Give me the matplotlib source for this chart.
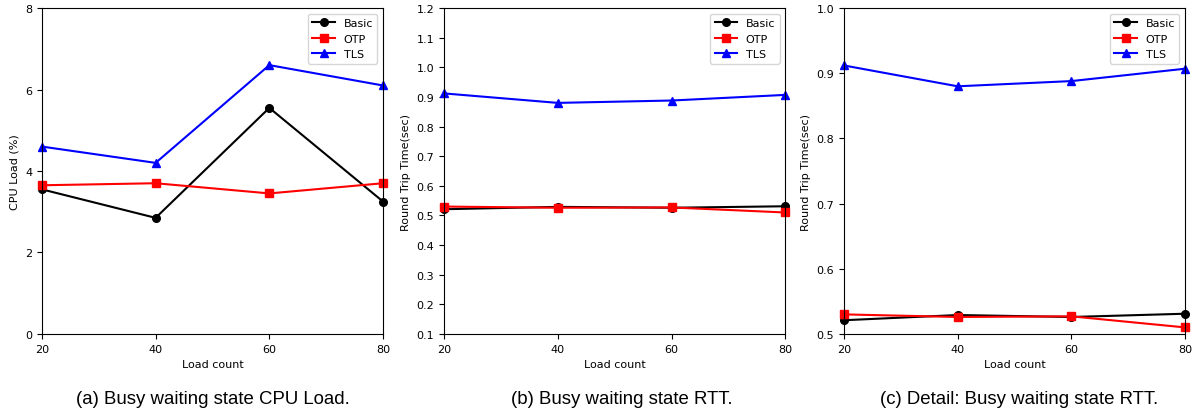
import matplotlib
matplotlib.use('Agg')
from matplotlib import pyplot as plt

# data
load = [20, 40, 60, 80]
cpu_basic = [3.55, 2.85, 5.55, 3.25]
cpu_otp = [3.65, 3.70, 3.45, 3.70]
cpu_tls = [4.60, 4.20, 6.60, 6.10]
rtt_basic = [0.521, 0.529, 0.526, 0.531]
rtt_otp = [0.530, 0.526, 0.527, 0.510]
rtt_tls = [0.912, 0.880, 0.888, 0.907]

captions = ['(a) Busy waiting state CPU Load.',
            '(b) Busy waiting state RTT.',
            '(c) Detail: Busy waiting state RTT.']

fig = plt.figure(figsize=(11.97, 4.14), dpi=100)
lefts = [0.035, 0.371, 0.705]
axes = [fig.add_axes([l, 0.191, 0.285, 0.787]) for l in lefts]

data = [(cpu_basic, cpu_otp, cpu_tls),
        (rtt_basic, rtt_otp, rtt_tls),
        (rtt_basic, rtt_otp, rtt_tls)]

for ax, (b, o, t) in zip(axes, data):
    ax.plot(load, b, 'k-o', label='Basic', markersize=5.5, lw=1.5, clip_on=False)
    ax.plot(load, o, 'r-s', label='OTP', markersize=5.5, lw=1.5, clip_on=False)
    ax.plot(load, t, 'b-^', label='TLS', markersize=5.5, lw=1.5, clip_on=False)
    ax.set_xlim(20, 80)
    ax.set_xticks(load)
    ax.set_xlabel('Load count', fontsize=8)
    ax.tick_params(labelsize=8)
    ax.legend(loc='upper right', fontsize=8)

axes[0].set_ylim(0, 8)
axes[0].set_yticks([0, 2, 4, 6, 8])
axes[0].set_ylabel('CPU Load (%)', fontsize=8)

axes[1].set_ylim(0.1, 1.2)
axes[1].set_yticks([0.1 * i for i in range(1, 13)])
axes[1].set_ylabel('Round Trip Time(sec)', fontsize=8)

axes[2].set_ylim(0.5, 1.0)
axes[2].set_yticks([0.5, 0.6, 0.7, 0.8, 0.9, 1.0])
axes[2].set_ylabel('Round Trip Time(sec)', fontsize=8)

for x, c in zip([213 / 1197, 622 / 1197, 1019 / 1197], captions):
    fig.text(x, 0.034, c, ha='center', va='center', fontsize=13.4,
             family='Liberation Sans')

plt.savefig('out.png', dpi=100)
